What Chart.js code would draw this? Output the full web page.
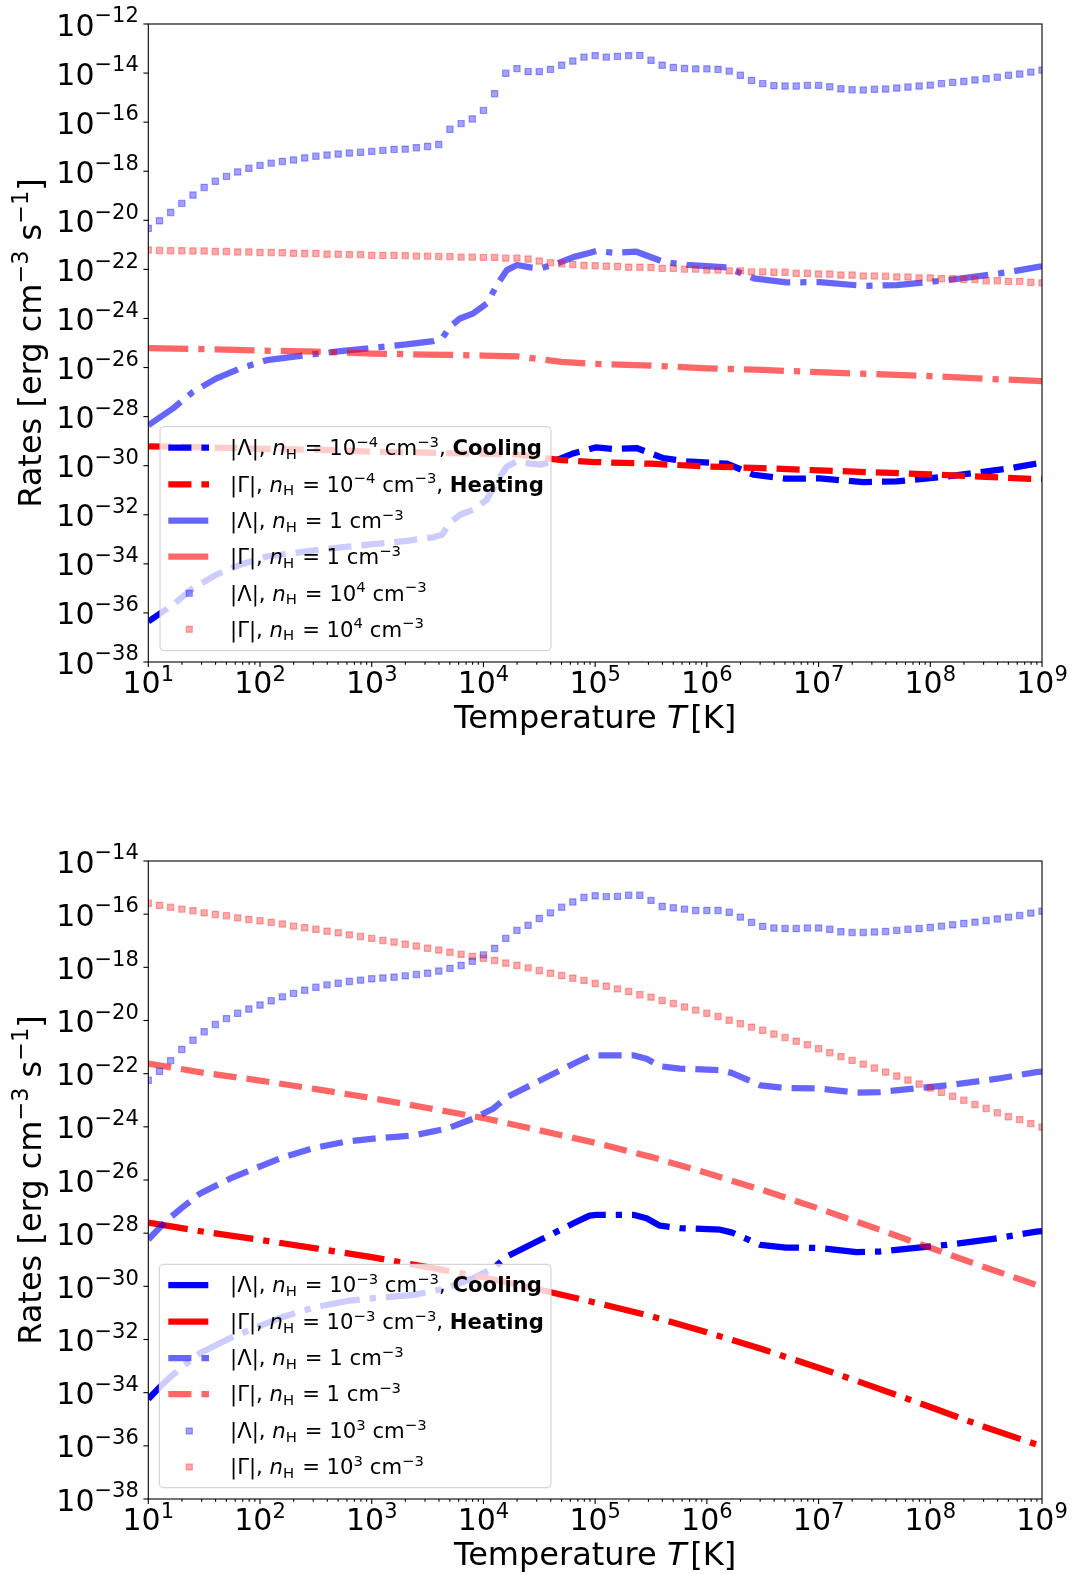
<!DOCTYPE html>
<html>
<head>
<meta charset="utf-8">
<script src="https://cdn.jsdelivr.net/npm/chart.js@4.4.0/dist/chart.umd.min.js"></script>
<style>
    html, body { margin: 0; padding: 0; background: #fff; }
    #wrap { position: relative; width: 1074px; height: 1575px; }
    canvas { position: absolute; left: 0; }
</style>
</head>
<body>
<div id="wrap">
    <canvas id="topChart" width="1074" height="785" style="top:0"></canvas>
    <canvas id="bottomChart" width="1074" height="790" style="top:785px"></canvas>
</div>
<script>
// ---- data (log10 of T in K, log10 of rate in erg cm^-3 s^-1) ----
const logT = [
    1.0, 1.1, 1.2, 1.3, 1.4, 1.5, 1.6, 1.7, 1.8, 1.9,
    2.0, 2.1, 2.2, 2.3, 2.4, 2.5, 2.6, 2.7, 2.8, 2.9,
    3.0, 3.1, 3.2, 3.3, 3.4, 3.5, 3.6, 3.7, 3.8, 3.9,
    4.0, 4.1, 4.2, 4.3, 4.4, 4.5, 4.6, 4.7, 4.8, 4.9,
    5.0, 5.1, 5.2, 5.3, 5.4, 5.5, 5.6, 5.7, 5.8, 5.9,
    6.0, 6.1, 6.2, 6.3, 6.4, 6.5, 6.6, 6.7, 6.8, 6.9,
    7.0, 7.1, 7.2, 7.3, 7.4, 7.5, 7.6, 7.7, 7.8, 7.9,
    8.0, 8.1, 8.2, 8.3, 8.4, 8.5, 8.6, 8.7, 8.8, 8.9, 9.0
];

// top panel
const topLamHi = [
    -20.33, -20.02, -19.68, -19.31, -18.97, -18.66, -18.41, -18.21, -18.03, -17.88,
    -17.76, -17.67, -17.60, -17.54, -17.46, -17.39, -17.34, -17.30, -17.26, -17.23,
    -17.19, -17.15, -17.11, -17.10, -17.04, -16.99, -16.91, -16.29, -16.06, -15.87,
    -15.52, -14.84, -14.01, -13.82, -13.94, -13.94, -13.85, -13.68, -13.51, -13.35,
    -13.29, -13.35, -13.32, -13.29, -13.28, -13.48, -13.68, -13.77, -13.81, -13.83,
    -13.83, -13.85, -13.92, -14.09, -14.30, -14.43, -14.51, -14.53, -14.53, -14.50,
    -14.50, -14.56, -14.64, -14.68, -14.69, -14.66, -14.65, -14.61, -14.57, -14.53,
    -14.49, -14.43, -14.38, -14.34, -14.28, -14.23, -14.17, -14.09, -14.04, -13.96, -13.88
];
const topGamHi = [
    -21.21, -21.23, -21.24, -21.24, -21.25, -21.25, -21.27, -21.27, -21.29, -21.29,
    -21.31, -21.31, -21.32, -21.34, -21.35, -21.35, -21.38, -21.38, -21.40, -21.40,
    -21.43, -21.43, -21.43, -21.44, -21.46, -21.46, -21.47, -21.48, -21.50, -21.50,
    -21.51, -21.51, -21.54, -21.54, -21.58, -21.66, -21.73, -21.77, -21.80, -21.84,
    -21.85, -21.87, -21.88, -21.91, -21.91, -21.92, -21.96, -21.96, -21.99, -21.99,
    -22.03, -22.03, -22.06, -22.06, -22.10, -22.10, -22.12, -22.12, -22.16, -22.16,
    -22.19, -22.19, -22.23, -22.23, -22.27, -22.27, -22.28, -22.31, -22.31, -22.35,
    -22.35, -22.38, -22.38, -22.41, -22.41, -22.46, -22.46, -22.49, -22.49, -22.53, -22.55
];
const topLamT = [1.00, 1.22, 1.40, 1.61, 1.82, 2.06, 2.42, 2.72, 3.01, 3.31, 3.55, 3.63, 3.70, 3.79, 3.91, 4.03, 4.13, 4.21, 4.30, 4.42,
    4.51, 4.66, 4.81, 4.93, 5.01, 5.16, 5.37, 5.61, 5.82, 6.18, 6.42, 6.71, 7.01, 7.40, 7.70, 8.15, 8.69, 8.98, 9.00];
const topLamN1 = [-28.35, -27.67, -26.99, -26.44, -26.04, -25.70, -25.49, -25.33, -25.20, -25.06, -24.92, -24.81, -24.34, -24.00, -23.79, -23.39, -22.57, -22.03, -21.82, -21.92,
    -21.96, -21.76, -21.49, -21.35, -21.25, -21.32, -21.28, -21.69, -21.82, -21.92, -22.37, -22.53, -22.52, -22.67, -22.64, -22.44, -22.12, -21.89, -21.88];
const topLamLo = [-36.35, -35.67, -34.99, -34.44, -34.04, -33.70, -33.49, -33.33, -33.20, -33.06, -32.92, -32.81, -32.34, -32.00, -31.79, -31.39, -30.57, -30.03, -29.82, -29.92,
    -29.96, -29.76, -29.49, -29.35, -29.25, -29.32, -29.28, -29.69, -29.82, -29.92, -30.37, -30.53, -30.52, -30.67, -30.64, -30.44, -30.12, -29.89, -29.88];
const topGamT = [1.0, 1.5, 2.0, 2.5, 3.0, 3.5, 4.0, 4.3, 4.5, 4.7, 5.0, 5.5, 6.0, 6.5, 7.0, 7.5, 8.0, 8.5, 9.0];
const topGamN1 = [-25.21, -25.25, -25.31, -25.35, -25.43, -25.47, -25.51, -25.54, -25.66, -25.77, -25.85, -25.92, -26.03, -26.10, -26.19, -26.27, -26.35, -26.46, -26.55];
const topGamLo = [-29.21, -29.25, -29.31, -29.35, -29.43, -29.47, -29.51, -29.54, -29.66, -29.77, -29.85, -29.92, -30.03, -30.10, -30.19, -30.27, -30.35, -30.46, -30.55];

// bottom panel
const botLamHi = [
    -22.25, -21.91, -21.51, -21.09, -20.74, -20.42, -20.15, -19.93, -19.73, -19.57,
    -19.42, -19.26, -19.11, -18.98, -18.86, -18.75, -18.66, -18.60, -18.53, -18.48,
    -18.43, -18.40, -18.37, -18.32, -18.27, -18.22, -18.14, -18.04, -17.93, -17.77,
    -17.53, -17.29, -16.91, -16.61, -16.42, -16.16, -15.95, -15.74, -15.54, -15.37,
    -15.31, -15.34, -15.33, -15.29, -15.29, -15.48, -15.71, -15.76, -15.81, -15.86,
    -15.86, -15.86, -15.93, -16.11, -16.31, -16.46, -16.52, -16.54, -16.54, -16.52,
    -16.52, -16.57, -16.66, -16.69, -16.69, -16.67, -16.65, -16.61, -16.57, -16.54,
    -16.50, -16.45, -16.40, -16.35, -16.30, -16.24, -16.18, -16.11, -16.05, -15.96, -15.89
];
const botGamHi = [
    -15.59, -15.67, -15.74, -15.81, -15.87, -15.95, -16.01, -16.06, -16.14, -16.20,
    -16.25, -16.31, -16.37, -16.45, -16.51, -16.57, -16.64, -16.70, -16.78, -16.84,
    -16.91, -16.99, -17.05, -17.13, -17.20, -17.28, -17.35, -17.43, -17.51, -17.59,
    -17.66, -17.74, -17.84, -17.93, -18.02, -18.12, -18.22, -18.31, -18.41, -18.49,
    -18.61, -18.71, -18.81, -18.91, -19.03, -19.12, -19.25, -19.36, -19.49, -19.61,
    -19.73, -19.85, -19.99, -20.12, -20.25, -20.37, -20.51, -20.64, -20.78, -20.91,
    -21.06, -21.21, -21.36, -21.50, -21.64, -21.79, -21.94, -22.09, -22.24, -22.39,
    -22.54, -22.70, -22.85, -23.00, -23.16, -23.31, -23.47, -23.62, -23.73, -23.88, -24.01
];
const botLamT = [1.00, 1.10, 1.20, 1.30, 1.46, 1.73, 1.91, 2.21, 2.48, 2.78, 3.07, 3.38, 3.67, 3.91, 4.09, 4.21, 4.51, 4.81, 4.95,
    5.01, 5.34, 5.46, 5.58, 5.76, 6.12, 6.22, 6.48, 6.71, 7.01, 7.34, 7.55, 7.85, 8.15, 8.60, 8.95, 9.00];
const botLamN1 = [-28.24, -27.80, -27.40, -27.05, -26.52, -25.95, -25.64, -25.14, -24.80, -24.55, -24.42, -24.32, -24.07, -23.69, -23.31, -22.88, -22.25, -21.62, -21.34,
    -21.31, -21.31, -21.44, -21.72, -21.81, -21.87, -21.97, -22.44, -22.54, -22.56, -22.71, -22.69, -22.56, -22.44, -22.19, -21.94, -21.92];
const botLamLo = [-34.24, -33.80, -33.40, -33.05, -32.52, -31.95, -31.64, -31.14, -30.80, -30.55, -30.42, -30.32, -30.07, -29.69, -29.31, -28.88, -28.25, -27.62, -27.34,
    -27.31, -27.31, -27.44, -27.72, -27.81, -27.87, -27.97, -28.44, -28.54, -28.56, -28.71, -28.69, -28.56, -28.44, -28.19, -27.94, -27.92];
const botGamT = [1.0, 1.5, 2.0, 2.5, 3.0, 3.5, 4.0, 4.5, 5.0, 5.5, 6.0, 6.5, 7.0, 7.5, 8.0, 8.5, 9.0];
const botGamN1 = [-21.62, -21.97, -22.26, -22.58, -22.92, -23.29, -23.67, -24.13, -24.60, -25.13, -25.74, -26.38, -27.07, -27.80, -28.55, -29.30, -30.02];
const botGamLo = [-27.60, -27.95, -28.25, -28.57, -28.90, -29.28, -29.66, -30.12, -30.61, -31.12, -31.73, -32.37, -33.06, -33.79, -34.54, -35.31, -36.02];

// ticks (exponents)
const xTickExp = [1, 2, 3, 4, 5, 6, 7, 8, 9];
const topYTickExp = [-12, -14, -16, -18, -20, -22, -24, -26, -28, -30, -32, -34, -36, -38];
const botYTickExp = [-14, -16, -18, -20, -22, -24, -26, -28, -30, -32, -34, -36, -38];

// legend labels: [symbol, density exponent or null, suffix]
const topLegend = [['Λ', '−4', 'Cooling'], ['Γ', '−4', 'Heating'], ['Λ', null, null], ['Γ', null, null], ['Λ', '4', null], ['Γ', '4', null]];
const botLegend = [['Λ', '−3', 'Cooling'], ['Γ', '−3', 'Heating'], ['Λ', null, null], ['Γ', null, null], ['Λ', '3', null], ['Γ', '3', null]];

// ---- drawing helpers ----
const FONT = '"DejaVu Sans", sans-serif';
const LW = 6.25;
const DASHED = [23.1, 10];
const DASHDOT = [40, 10, LW, 10];
const BLUE = '#0000ff', RED = '#ff0000';
const BLUE6 = 'rgba(0,0,255,0.6)', RED6 = 'rgba(255,0,0,0.6)';
const BLUESQ = 'rgba(0,0,255,0.36)', REDSQ = 'rgba(255,0,0,0.33)';

function pts(xs, ys) {
    return xs.map((x, i) => ({ x: Math.pow(10, x), y: Math.pow(10, ys[i]) }));
}

function fontStr(size, it, bf) {
    return (it ? 'italic ' : '') + (bf ? 'bold ' : '') + size + 'px ' + FONT;
}

function richWidth(ctx, parts, F) {
    let w = 0;
    parts.forEach(p => {
        ctx.font = fontStr((p.sup || p.sub) ? F * 0.7 : F, p.it, p.bf);
        w += ctx.measureText(p.t).width + (p.gap || 0) * F;
    });
    return w;
}

function drawRich(ctx, parts, x, y, F, align, rise) {
    const w = richWidth(ctx, parts, F);
    let cx = align === 'center' ? x - w / 2 : align === 'right' ? x - w : x;
    ctx.textAlign = 'left';
    ctx.textBaseline = 'alphabetic';
    ctx.fillStyle = '#000';
    parts.forEach(p => {
        const s = (p.sup || p.sub) ? F * 0.7 : F;
        ctx.font = fontStr(s, p.it, p.bf);
        const dy = p.sup ? -F * rise : p.sub ? F * 0.17 : 0;
        ctx.fillText(p.t, cx, y + dy);
        cx += ctx.measureText(p.t).width + (p.gap || 0) * F;
    });
}

function legendParts(row) {
    const [sym, dens, suffix] = row;
    const parts = [{ t: '|' + sym + '|, ' }, { t: 'n', it: true }, { t: 'H', sub: true, gap: 0.06 }, { t: ' = ' }];
    if (dens === null) {
        parts.push({ t: '1 cm' });
    } else {
        parts.push({ t: '10' }, { t: dens, sup: true }, { t: ' cm' });
    }
    parts.push({ t: '−3', sup: true });
    if (suffix) parts.push({ t: ', ' }, { t: suffix, bf: true });
    return parts;
}

const mplPlugin = {
    id: 'mplAxes',
    afterDatasetsDraw(chart, args, opts) {
        const { ctx, chartArea: a, scales: { x, y } } = chart;
        ctx.save();
        ctx.setLineDash([]);
        // frame
        ctx.strokeStyle = '#000';
        ctx.lineWidth = 1.1;
        ctx.strokeRect(a.left, a.top, a.right - a.left, a.bottom - a.top);

        // x ticks
        const TF = 30;
        xTickExp.forEach(e => {
            const px = x.getPixelForValue(Math.pow(10, e));
            ctx.beginPath();
            ctx.moveTo(px, a.bottom);
            ctx.lineTo(px, a.bottom + 4.9);
            ctx.stroke();
            drawRich(ctx, [{ t: '10' }, { t: String(e), sup: true }], px, a.bottom + 31, TF, 'center', 0.4);
            if (e < 9) {
                for (let m = 2; m <= 9; m++) {
                    const pm = x.getPixelForValue(m * Math.pow(10, e));
                    ctx.beginPath();
                    ctx.moveTo(pm, a.bottom);
                    ctx.lineTo(pm, a.bottom + 2.8);
                    ctx.stroke();
                }
            }
        });

        // y ticks
        opts.yTicks.forEach(e => {
            const py = y.getPixelForValue(Math.pow(10, e));
            ctx.beginPath();
            ctx.moveTo(a.left, py);
            ctx.lineTo(a.left - 4.9, py);
            ctx.stroke();
            drawRich(ctx, [{ t: '10' }, { t: '−' + String(-e), sup: true }], a.left - 9.5, py + 11.5, TF, 'right', 0.44);
        });

        // axis labels
        const LF = 32;
        drawRich(ctx, [{ t: 'Temperature ' }, { t: 'T', it: true, gap: 0.12 }, { t: '[K]' }], (a.left + a.right) / 2, a.bottom + 66, LF, 'center', 0.4);
        ctx.save();
        ctx.translate(41, (a.top + a.bottom) / 2);
        ctx.rotate(-Math.PI / 2);
        drawRich(ctx, [{ t: 'Rates [erg cm' }, { t: '−3', sup: true }, { t: ' s' }, { t: '−1', sup: true }, { t: ']' }], 0, 0, LF, 'center', 0.4);
        ctx.restore();

        // legend
        const lg = opts.legend;
        const [l, t, r, b] = lg.box;
        ctx.beginPath();
        ctx.roundRect(l, t, r - l, b - t, 4);
        ctx.fillStyle = 'rgba(255,255,255,0.8)';
        ctx.fill();
        ctx.strokeStyle = '#cccccc';
        ctx.lineWidth = 1;
        ctx.stroke();
        lg.rows.forEach((ry, i) => {
            const it = lg.items[i];
            if (it.square) {
                ctx.setLineDash([]);
                ctx.fillStyle = it.color;
                ctx.strokeStyle = it.color;
                ctx.lineWidth = 1.2;
                ctx.fillRect(186.3, ry - 3, 6, 6);
                ctx.strokeRect(186.3, ry - 3, 6, 6);
            } else {
                ctx.setLineDash(it.dash);
                ctx.lineCap = 'butt';
                ctx.strokeStyle = it.color;
                ctx.lineWidth = LW;
                ctx.beginPath();
                ctx.moveTo(168.3, ry);
                ctx.lineTo(209, ry);
                ctx.stroke();
            }
            ctx.setLineDash([]);
            drawRich(ctx, legendParts(lg.labels[i]), 230, ry + 7.4, 21.2, 'left', 0.4);
        });
        ctx.restore();
    }
};

function lineDs(xs, ys, color, dash, order) {
    return {
        data: pts(xs, ys), borderColor: color, borderWidth: LW, borderDash: dash,
        borderCapStyle: 'butt', borderJoinStyle: 'round', pointRadius: 0, fill: false,
        tension: 0, order: order, clip: 0
    };
}

function squareDs(xs, ys, color, order) {
    return {
        data: pts(xs, ys), showLine: false, pointStyle: 'rect', pointRadius: 4.4,
        pointBackgroundColor: color, pointBorderColor: color, pointBorderWidth: 1.2,
        order: order, clip: 0
    };
}

function makeChart(id, datasets, yMax, pad, yTicks, legend) {
    return new Chart(document.getElementById(id), {
        type: 'line',
        data: { datasets: datasets },
        options: {
            responsive: false,
            animation: false,
            events: [],
            parsing: false,
            layout: { padding: pad },
            scales: {
                x: { type: 'logarithmic', min: 10, max: 1e9, display: false },
                y: { type: 'logarithmic', min: 1e-38, max: yMax, display: false }
            },
            plugins: {
                legend: { display: false },
                tooltip: { enabled: false },
                mplAxes: { yTicks: yTicks, legend: legend }
            }
        },
        plugins: [mplPlugin]
    });
}

const topRows = [447.7, 484.3, 520.7, 556.7, 593.3, 629.3];
makeChart('topChart', [
    lineDs(topLamT, topLamLo, BLUE, DASHED, 6),
    lineDs(topGamT, topGamLo, RED, DASHED, 5),
    lineDs(topLamT, topLamN1, BLUE6, DASHDOT, 4),
    lineDs(topGamT, topGamN1, RED6, DASHDOT, 3),
    squareDs(logT, topLamHi, BLUESQ, 2),
    squareDs(logT, topGamHi, REDSQ, 1)
], 1e-12, { left: 148.3, right: 32, top: 24, bottom: 123 }, topYTickExp, {
    box: [160, 426.7, 551, 650.7],
    rows: topRows,
    labels: topLegend,
    items: [
        { color: BLUE, dash: DASHED }, { color: RED, dash: DASHED },
        { color: BLUE6, dash: DASHDOT }, { color: RED6, dash: DASHDOT },
        { color: BLUESQ, square: true }, { color: REDSQ, square: true }
    ]
});

const botRows = [1285 - 785, 1321.7 - 785, 1358 - 785, 1394 - 785, 1431 - 785, 1467 - 785];
makeChart('bottomChart', [
    lineDs(botLamT, botLamLo, BLUE, DASHDOT, 6),
    lineDs(botGamT, botGamLo, RED, DASHDOT, 5),
    lineDs(botLamT, botLamN1, BLUE6, DASHED, 4),
    lineDs(botGamT, botGamN1, RED6, DASHED, 3),
    squareDs(logT, botLamHi, BLUESQ, 2),
    squareDs(logT, botGamHi, REDSQ, 1)
], 1e-14, { left: 148.3, right: 32, top: 76, bottom: 76 }, botYTickExp, {
    box: [159.3, 1264.3 - 785, 551, 1487.7 - 785],
    rows: botRows,
    labels: botLegend,
    items: [
        { color: BLUE, dash: DASHDOT }, { color: RED, dash: DASHDOT },
        { color: BLUE6, dash: DASHED }, { color: RED6, dash: DASHED },
        { color: BLUESQ, square: true }, { color: REDSQ, square: true }
    ]
});
</script>
</body>
</html>
